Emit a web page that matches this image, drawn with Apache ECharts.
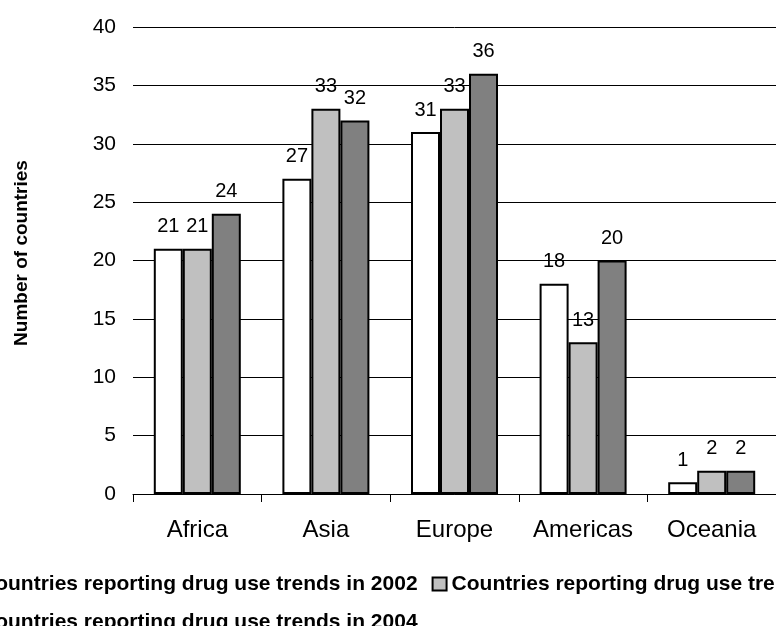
<!DOCTYPE html>
<html><head><meta charset="utf-8">
<script src="https://cdn.jsdelivr.net/npm/echarts@6/dist/echarts.min.js"></script>
<style>html,body{margin:0;padding:0;background:#fff}#c{width:776px;height:626px}</style>
</head><body><div id="c"></div>
<script>
const categories = ['Africa', 'Asia', 'Europe', 'Americas', 'Oceania'];
const seriesNames = [
  'Countries reporting drug use trends in 2002',
  'Countries reporting drug use trends in 2003',
  'Countries reporting drug use trends in 2004'
];
const values2002 = [21, 27, 31, 18, 1];
const values2003 = [21, 33, 33, 13, 2];
const values2004 = [24, 32, 36, 20, 2];
const yTicks = [0, 5, 10, 15, 20, 25, 30, 35, 40];
const yAxisTitle = 'Number of countries';
const colors = ['#FFFFFF', '#C0C0C0', '#808080'];

const font = 'Liberation Sans, Arial, sans-serif';
const chart = echarts.init(document.getElementById('c'));
const allVals = [values2002, values2003, values2004];
chart.setOption({
  animation: false,
  textStyle: { fontFamily: font },
  grid: { left: 133, top: 27, width: 653, height: 467 },
  legend: {
    left: -45, top: 567, width: 1000,
    itemWidth: 14, itemHeight: 13, itemGap: 14,
    icon: 'rect',
    textStyle: { fontFamily: font, fontWeight: 'bold', fontSize: 21, lineHeight: 24, color: '#000' },
    data: seriesNames
  },
  graphic: [{
    type: 'text', x: 22, y: 253, rotation: Math.PI / 2,
    style: { text: yAxisTitle, align: 'center', verticalAlign: 'middle',
      font: 'bold 19px Liberation Sans, Arial, sans-serif', fill: '#000' }
  }],
  xAxis: {
    type: 'category', data: categories,
    axisLine: { lineStyle: { color: '#000', width: 1 } },
    axisTick: { show: true, length: 8, lineStyle: { color: '#000' } },
    axisLabel: { interval: 0, fontSize: 24, color: '#000', margin: 24, fontFamily: font }
  },
  yAxis: {
    type: 'value', min: 0, max: 40, interval: 5,
    axisLine: { show: false },
    axisTick: { show: false },
    splitLine: { lineStyle: { color: '#000', width: 1 } },
    axisLabel: { fontSize: 21, color: '#000', margin: 17, fontFamily: font,
      formatter: v => yTicks.includes(v) ? String(v) : '' }
  },
  series: seriesNames.map((n, i) => ({
    name: n, type: 'bar', data: allVals[i],
    barWidth: 29, barGap: '0%',
    itemStyle: { color: colors[i], borderColor: '#000', borderWidth: 2 },
    label: { show: true, position: 'top', distance: 12, fontSize: 20, color: '#000', fontFamily: font }
  }))
});
</script></body></html>
